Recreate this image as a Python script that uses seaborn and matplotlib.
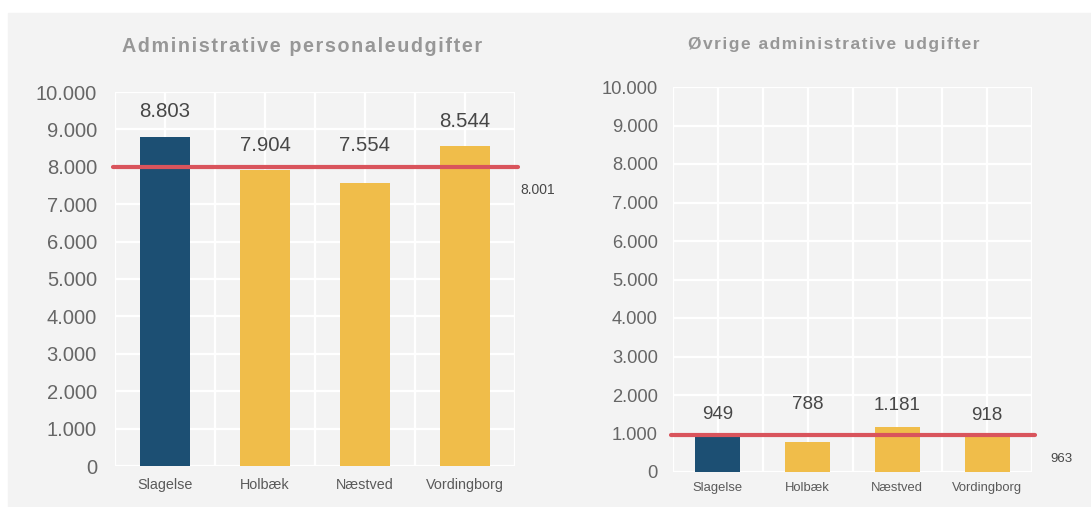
import numpy as np
import pandas as pd
import seaborn as sns
import matplotlib.pyplot as plt
from matplotlib.patches import Rectangle

kommuner = ['Slagelse', 'Holbæk', 'Næstved', 'Vordingborg']
personale = [8803, 7904, 7554, 8544]
oevrige = [949, 788, 1181, 918]
snit_personale = 8001
snit_oevrige = 963

BLUE = '#1c4f73'
YELLOW = '#f0bd4a'
RED = '#d9545c'
BG = '#f3f3f3'
W, H = 1091, 507


def dk(v):
    return f'{v:,.0f}'.replace(',', '.')


def spaced(s):
    # Excel-style letter spacing in the titles
    return '\u200a'.join(s)


sns.set_theme(style='whitegrid', rc={'axes.facecolor': BG, 'grid.color': 'white',
                                     'grid.linewidth': 1.6, 'figure.facecolor': 'white'})
plt.rcParams['font.family'] = ['Liberation Sans', 'DejaVu Sans']

fig = plt.figure(figsize=(W / 100, H / 100), dpi=100)
fig.add_artist(Rectangle((8 / W, 0), 1, (H - 13) / H, transform=fig.transFigure,
                         color=BG, zorder=0))


def px_axes(x0, y0, x1, y1):
    return fig.add_axes([x0 / W, 1 - y1 / H, (x1 - x0) / W, (y1 - y0) / H])


def panel(ax, values, avg, fs_y, fs_val, fs_x, fs_avg, val_off, avg_dx, ypad, xpad,
          extra_off=None):
    df = pd.DataFrame({'kommune': kommuner, 'udgift': values})
    sns.barplot(data=df, x='kommune', y='udgift', hue='kommune',
                palette=[BLUE] + [YELLOW] * 3, width=0.5, saturation=1,
                legend=False, ax=ax, zorder=2, linewidth=0)
    ax.set_axisbelow(True)
    ax.set_xlim(-0.5, 3.5)
    ax.set_ylim(0, 10000)
    ax.set_yticks(range(0, 10001, 1000))
    ax.set_yticklabels([dk(v) for v in range(0, 10001, 1000)], fontsize=fs_y,
                       color='#666666')
    ax.set_xticks(range(4))
    ax.set_xticklabels(kommuner, fontsize=fs_x, color='#5a5a5a')
    ax.set_xticks(np.arange(-0.5, 4, 1), minor=True)
    ax.grid(True, axis='x', which='both')
    ax.grid(True, axis='y')
    ax.tick_params(axis='y', length=0, pad=ypad)
    ax.tick_params(axis='x', which='both', length=0, pad=xpad)
    ax.set_xlabel('')
    ax.set_ylabel('')
    for s in ax.spines.values():
        s.set_visible(False)

    ax.plot([-0.52, 3.53], [avg, avg], color=RED, lw=3, clip_on=False, zorder=3,
            solid_capstyle='round')
    for i, v in enumerate(values):
        off = val_off + (extra_off or {}).get(i, 0)
        ax.annotate(dk(v), (i, v), xytext=(0, off), textcoords='offset points',
                    ha='center', va='center', fontsize=fs_val, color='#474747')
    ax.annotate(dk(avg), (3.5, avg), xytext=(avg_dx, -17), textcoords='offset points',
                ha='left', va='center', fontsize=fs_avg, color='#474747',
                annotation_clip=False)


ax1 = px_axes(115, 92, 515, 466)
panel(ax1, personale, snit_personale, 14.5, 14.7, 10.4, 10, 18, 3.6, 13, 8.5,
      extra_off={2: 9.5})

ax2 = px_axes(673, 87, 1032, 472)
panel(ax2, oevrige, snit_oevrige, 13.2, 13.5, 9.4, 9.5, 15, 13, 11, 7.5,
      extra_off={1: 12})

fig.text(302 / W, 1 - 47 / H, spaced('Administrative personaleudgifter'), ha='center',
         va='center', fontsize=14.2, fontweight='bold', color='#979797')
fig.text(834 / W, 1 - 44 / H, spaced('Øvrige administrative udgifter'), ha='center',
         va='center', fontsize=12.5, fontweight='bold', color='#979797')

fig.savefig('out.png', dpi=100)
